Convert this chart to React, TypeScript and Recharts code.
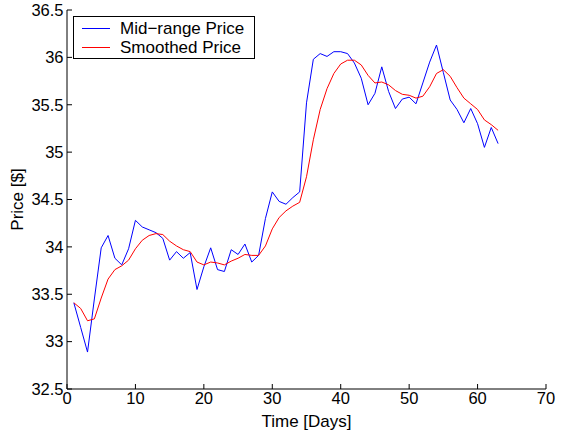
import React from 'react';
import { LineChart, Line, XAxis, YAxis } from 'recharts';

const days: number[] = Array.from({ length: 63 }, (_, i) => i + 1);

const midRange: number[] = [
  33.41, 33.15, 32.89, 33.45, 33.99, 34.12, 33.88, 33.81, 33.98, 34.28,
  34.21, 34.18, 34.15, 34.09, 33.86, 33.95, 33.88, 33.94, 33.55, 33.79,
  33.99, 33.76, 33.74, 33.97, 33.92, 34.03, 33.84, 33.91, 34.30, 34.58,
  34.48, 34.45, 34.52, 34.58, 35.52, 35.98, 36.04, 36.01, 36.06, 36.06,
  36.04, 35.94, 35.78, 35.50, 35.62, 35.90, 35.64, 35.46, 35.56, 35.58,
  35.51, 35.73, 35.95, 36.13, 35.84, 35.55, 35.45, 35.31, 35.46, 35.30,
  35.05, 35.26, 35.09,
];

const smoothed: number[] = [
  33.41, 33.35, 33.22, 33.24, 33.46, 33.66, 33.76, 33.80, 33.86, 33.98,
  34.07, 34.12, 34.14, 34.13, 34.06, 34.01, 33.97, 33.95, 33.84, 33.81,
  33.84, 33.83, 33.81, 33.85, 33.88, 33.92, 33.91, 33.91, 34.01, 34.19,
  34.31, 34.38, 34.43, 34.47, 34.74, 35.13, 35.45, 35.67, 35.83, 35.93,
  35.97, 35.97, 35.92, 35.81, 35.73, 35.74, 35.71, 35.65, 35.61, 35.60,
  35.57, 35.59, 35.69, 35.83, 35.87, 35.80, 35.68, 35.57, 35.51, 35.45,
  35.34, 35.29, 35.23,
];

const seriesNames: string[] = ['Mid−range Price', 'Smoothed Price'];
const seriesColors: string[] = ['#0000ff', '#ff0000'];

const xTicks: number[] = [0, 10, 20, 30, 40, 50, 60, 70];
const yTicks: number[] = [32.5, 33, 33.5, 34, 34.5, 35, 35.5, 36, 36.5];

const data = days.map((d, i) => ({ day: d, mid: midRange[i], smooth: smoothed[i] }));

const FONT = '"Liberation Sans", Arial, Helvetica, sans-serif';

const LegendBox = () => (
  <div
    style={{
      position: 'absolute',
      left: 73,
      top: 16,
      border: '1px solid #000',
      background: '#fff',
      width: 182,
      height: 43,
      boxSizing: 'border-box',
      fontFamily: FONT,
      fontSize: 17,
      color: '#000',
      padding: '2px 0 0 8px',
      lineHeight: '19px',
    }}
  >
    {seriesNames.map((name, i) => (
      <div key={name} style={{ display: 'flex', alignItems: 'center', height: 19 }}>
        <span style={{ display: 'inline-block', width: 28, height: 1, background: seriesColors[i], marginRight: 10 }} />
        <span>{name}</span>
      </div>
    ))}
  </div>
);

export default function App() {
  return (
    <div style={{ position: 'absolute', left: 0, top: 0, width: 561, height: 440, background: '#fff' }}>
      <LineChart
        width={561}
        height={440}
        data={data}
        margin={{ top: 10, right: 15, bottom: 0, left: 7 }}
        style={{ fontFamily: FONT }}
      >
        <XAxis
          dataKey="day"
          type="number"
          domain={[0, 70]}
          ticks={xTicks}
          allowDataOverflow
          height={51}
          tickSize={-5}
          tickMargin={8}
          stroke="#000"
          tick={{ fill: '#000', fontSize: 16.5, fontFamily: FONT }}
          label={{ value: 'Time [Days]', position: 'insideBottom', offset: 13, fill: '#000', fontSize: 17, fontFamily: FONT }}
        />
        <YAxis
          type="number"
          domain={[32.5, 36.5]}
          ticks={yTicks}
          allowDataOverflow
          width={60}
          tickSize={-5}
          tickMargin={8.5}
          stroke="#000"
          tick={{ fill: '#000', fontSize: 16.5, fontFamily: FONT }}
          label={{ value: 'Price [$]', angle: -90, position: 'insideLeft', offset: 10, fill: '#000', fontSize: 17, fontFamily: FONT, style: { textAnchor: 'middle' } }}
        />
        <Line
          type="linear"
          dataKey="mid"
          name={seriesNames[0]}
          stroke={seriesColors[0]}
          strokeWidth={1}
          dot={false}
          isAnimationActive={false}
        />
        <Line
          type="linear"
          dataKey="smooth"
          name={seriesNames[1]}
          stroke={seriesColors[1]}
          strokeWidth={1}
          dot={false}
          isAnimationActive={false}
        />
      </LineChart>
      <LegendBox />
    </div>
  );
}
